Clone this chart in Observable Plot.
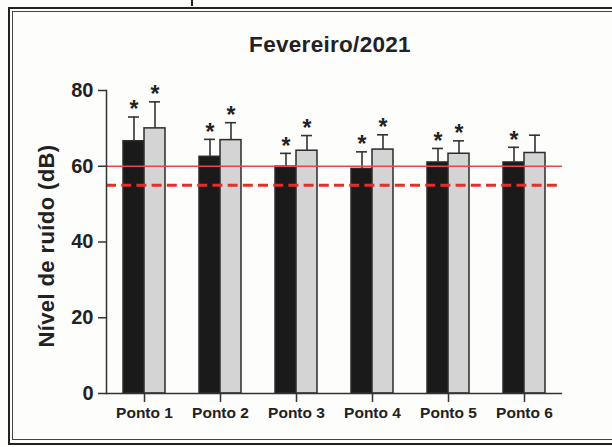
<!DOCTYPE html>
<html>
<head>
<meta charset="utf-8">
<script src="https://cdn.jsdelivr.net/npm/d3@7"></script>
<script src="https://cdn.jsdelivr.net/npm/@observablehq/plot@0.6"></script>
<style>
  html, body { margin: 0; padding: 0; background: #fff; }
  #wrap { position: relative; width: 612px; height: 447px; overflow: hidden; background: #fdfdfc; font-family: "Liberation Sans", Arial, sans-serif; }
  #outer { position: absolute; left: 8px; top: 7px; width: 620px; height: 434px; border: 2px solid #222; }
  #inner { position: absolute; left: 12px; top: 11px; width: 620px; height: 427px; border: 1px solid #444; }
  #nick { position: absolute; left: 191px; top: 0; width: 1.5px; height: 6px; background: #222; }
  #title { position: absolute; left: 330px; top: 34px; transform: translateX(-50%); font-size: 22.5px; line-height: 22px; font-weight: bold; color: #222; white-space: nowrap; letter-spacing: 0.3px; }
  #ylabel { position: absolute; left: 47px; top: 246px; transform: translate(-50%, -50%) rotate(-90deg); font-size: 22px; line-height: 22px; font-weight: bold; color: #222; white-space: nowrap; letter-spacing: 0.4px; }
  #chart { position: absolute; left: 0; top: 0; }
</style>
</head>
<body>
<div id="wrap">
  <div id="outer"></div>
  <div id="inner"></div>
  <div id="nick"></div>
  <div id="chart"></div>
  <div id="title">Fevereiro/2021</div>
  <div id="ylabel">Nível de ruído (dB)</div>
</div>
<script>
// ---- data ----
const pontos = ["Ponto 1", "Ponto 2", "Ponto 3", "Ponto 4", "Ponto 5", "Ponto 6"];
const series = ["Série 1", "Série 2"];
const mediaS1 = [66.6, 62.5, 59.9, 59.3, 61.0, 61.0];
const dpS1    = [6.4, 4.6, 3.5, 4.5, 3.7, 4.0];
const sigS1   = [true, true, true, true, true, true];
const mediaS2 = [70.0, 66.9, 64.1, 64.4, 63.3, 63.5];
const dpS2    = [7.0, 4.6, 4.0, 3.9, 3.4, 4.7];
const sigS2   = [true, true, true, true, true, false];
const limiteDia = [60];
const limiteNoite = [55];
const yTicks = [0, 20, 40, 60, 80];

const data = pontos.flatMap((p, i) => [
  {ponto: p, serie: series[0], media: mediaS1[i], dp: dpS1[i], sig: sigS1[i]},
  {ponto: p, serie: series[1], media: mediaS2[i], dp: dpS2[i], sig: sigS2[i]}
]);
const upper = d => d.media + d.dp;

const chart = Plot.plot({
  width: 612,
  height: 447,
  marginLeft: 106,
  marginRight: 50,
  marginTop: 90,
  marginBottom: 54,
  style: {fontFamily: "'Liberation Sans', Arial, sans-serif", background: "transparent", color: "#222"},
  fx: {domain: pontos, padding: 0, label: null},
  x: {domain: series, paddingInner: 0, paddingOuter: 0.73, axis: null},
  y: {domain: [0, 80], axis: null},
  color: {domain: series, range: ["#1a1a1a", "#d4d4d4"]},
  marks: [
    Plot.barY(data, {fx: "ponto", x: "serie", y: "media", fill: "serie", stroke: "#2b2b2b", strokeWidth: 1.5}),
    Plot.ruleX(data, {fx: "ponto", x: "serie", y1: "media", y2: upper, stroke: "#333", strokeWidth: 1.6}),
    Plot.tickY(data, {fx: "ponto", x: "serie", y: upper, insetLeft: 5, insetRight: 5, stroke: "#333", strokeWidth: 1.6}),
    Plot.text(data.filter(d => d.sig), {fx: "ponto", x: "serie", y: upper, text: () => "*", dy: -7, fontSize: 23, fontWeight: "bold", fill: "#222"}),
    Plot.ruleY(limiteDia, {stroke: "#e8483f", strokeWidth: 1.5}),
    Plot.ruleY(limiteNoite, {stroke: "#e0302a", strokeWidth: 3, strokeDasharray: "10,5.2"}),
    Plot.ruleY([0], {stroke: "#333", strokeWidth: 1.5}),
    Plot.axisY({ticks: yTicks, tickSize: 8, tickPadding: 5, fontSize: 20, fontWeight: "bold", label: null, stroke: "#333", strokeWidth: 1.5}),
    Plot.axisFx({anchor: "bottom", tickSize: 9, tickPadding: 4, fontSize: 15.5, fontWeight: "bold", label: null, stroke: "#333", strokeWidth: 1.5}),
    Plot.frame({anchor: "left", facetAnchor: "left", stroke: "#333", strokeWidth: 1.5})
  ]
});
document.getElementById("chart").appendChild(chart);
</script>
</body>
</html>
